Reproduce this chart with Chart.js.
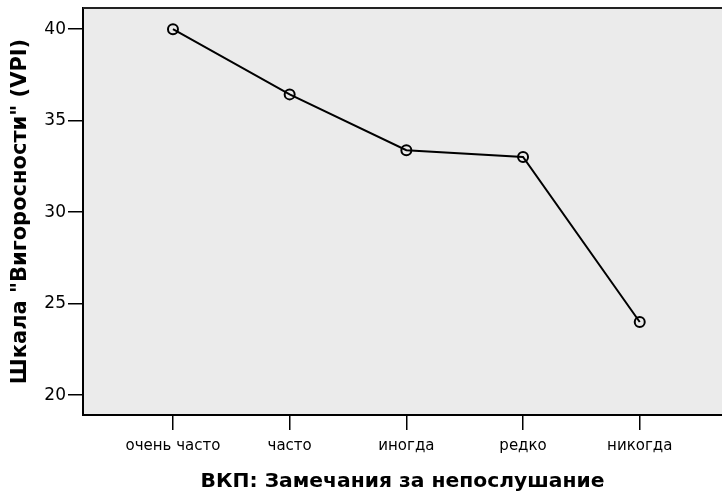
<!DOCTYPE html>
<html>
<head>
<meta charset="utf-8">
<script src="https://cdn.jsdelivr.net/npm/chart.js@4.4.1/dist/chart.umd.min.js"></script>
<style>
  html, body { margin: 0; padding: 0; background: #fff; }
  #wrap { width: 722px; height: 495px; }
</style>
</head>
<body>
<div id="wrap"><canvas id="grafica" width="722" height="495"></canvas></div>
<script>
// categorías y valores medios
const categorias = ["очень часто", "часто", "иногда", "редко", "никогда"];
const posiciones = [1, 2, 3, 4, 5];
const valores = [40.0, 36.44, 33.39, 33.02, 24.0];
const ticksY = [20, 25, 30, 35, 40];

const tituloX = "ВКП: Замечания за непослушание";
const tituloY = "Шкала \"Вигоросности\" (VPI)";

const FUENTE = "'DejaVu Sans', sans-serif";

// fondo gris del área y borde superior
const fondoPlot = {
  id: "fondoPlot",
  beforeDraw(chart) {
    const { ctx, chartArea: a } = chart;
    ctx.save();
    ctx.fillStyle = "#ebebeb";
    ctx.fillRect(a.left, a.top, a.right - a.left, a.bottom - a.top);
    ctx.restore();
  },
  afterDraw(chart) {
    const { ctx, chartArea: a } = chart;
    ctx.save();
    ctx.strokeStyle = "#222";
    ctx.lineWidth = 2;
    ctx.beginPath();
    ctx.moveTo(a.left, a.top);
    ctx.lineTo(a.right, a.top);
    ctx.stroke();
    ctx.restore();
  }
};

function sinPadding(s) {
  s.paddingTop = 0;
  s.paddingBottom = 0;
  s.paddingLeft = 0;
  s.paddingRight = 0;
}

new Chart(document.getElementById("grafica"), {
  type: "line",
  data: {
    datasets: [{
      data: posiciones.map((p, i) => ({ x: p, y: valores[i] })),
      borderColor: "#000",
      borderWidth: 2,
      tension: 0,
      pointRadius: 5,
      pointBorderWidth: 2,
      pointBorderColor: "#000",
      pointBackgroundColor: "rgba(0,0,0,0)"
    }]
  },
  options: {
    responsive: false,
    devicePixelRatio: 1,
    animation: false,
    layout: { autoPadding: false, padding: { top: 8, right: 0, left: 0, bottom: 0 } },
    plugins: { legend: { display: false }, tooltip: { enabled: false } },
    scales: {
      x: {
        type: "linear",
        min: 0.229,
        max: 5.705,
        afterBuildTicks: s => { s.ticks = posiciones.map(v => ({ value: v })); },
        afterFit: s => { s.height = 80; sinPadding(s); },
        ticks: {
          color: "#000",
          font: { family: FUENTE, size: 15 },
          padding: 7,
          autoSkip: false,
          maxRotation: 0,
          callback: v => categorias[v - 1]
        },
        grid: { drawOnChartArea: false, color: "#000", lineWidth: 1.5, tickLength: 15 },
        border: { color: "#000", width: 2 },
        title: {
          display: true,
          text: tituloX,
          color: "#000",
          font: { family: FUENTE, size: 20.3, weight: "bold" },
          padding: { top: 0, bottom: 1 }
        }
      },
      y: {
        min: 18.92,
        max: 41.16,
        afterBuildTicks: s => { s.ticks = ticksY.map(v => ({ value: v })); },
        afterFit: s => { s.width = 83; sinPadding(s); },
        ticks: {
          color: "#000",
          font: { family: FUENTE, size: 17 },
          padding: 2
        },
        grid: { drawOnChartArea: false, color: "#000", lineWidth: 1.5, tickLength: 15 },
        border: { color: "#000", width: 2 },
        title: {
          display: true,
          text: tituloY,
          color: "#000",
          font: { family: FUENTE, size: 21, weight: "bold" },
          padding: { top: 8, bottom: 0 }
        }
      }
    }
  },
  plugins: [fondoPlot]
});
</script>
</body>
</html>
